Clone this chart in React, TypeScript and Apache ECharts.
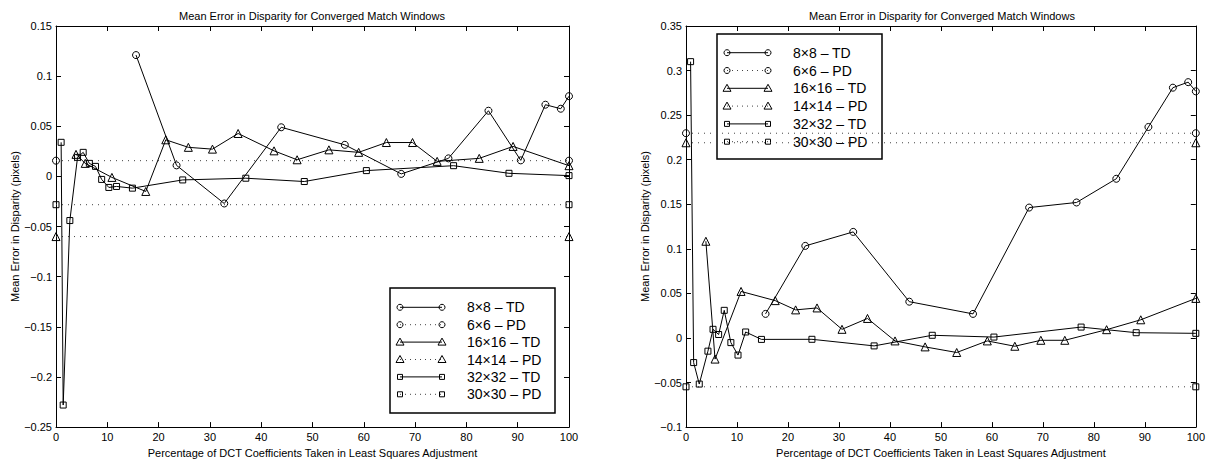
import React, { useEffect, useRef } from "react";
import * as echarts from "echarts";

// ---------- data ----------
const TITLE = "Mean Error in Disparity for Converged Match Windows";
const X_NAME = "Percentage of DCT Coefficients Taken in Least Squares Adjustment";
const Y_NAME = "Mean Error in Disparity (pixels)";
const LEGEND_LABELS = ["8×8 – TD", "6×6 – PD", "16×16 – TD", "14×14 – PD", "32×32 – TD", "30×30 – PD"];

// Left chart
const X8L = [15.6, 23.5, 32.8, 43.9, 56.3, 67.3, 76.5, 84.3, 90.6, 95.4, 98.4, 100];
const Y8L = [0.121, 0.011, -0.027, 0.049, 0.0315, 0.0025, 0.018, 0.0655, 0.016, 0.0715, 0.0675, 0.08];
const X16L = [3.9, 5.7, 10.9, 17.5, 21.4, 25.8, 30.5, 35.5, 42.5, 47.0, 53.2, 59.0, 64.4, 69.5, 74.3, 82.5, 89.1, 100];
const Y16L = [0.022, 0.013, -0.001, -0.015, 0.0365, 0.029, 0.0272, 0.0428, 0.0255, 0.0166, 0.0265, 0.024, 0.0338, 0.0338, 0.015, 0.018, 0.0299, 0.0107];
const X32L = [1.0, 1.4, 2.7, 4.2, 5.3, 6.5, 7.7, 8.9, 10.3, 11.8, 14.9, 24.7, 37.0, 48.4, 60.5, 77.5, 88.3, 100];
const Y32L = [0.034, -0.228, -0.044, 0.019, 0.024, 0.013, 0.01, -0.003, -0.011, -0.01, -0.0117, -0.0035, -0.0018, -0.0051, 0.0058, 0.0107, 0.0031, 0.0008];
const PD_L = [0.0157, -0.06, -0.0282]; // 6x6, 14x14, 30x30

// Right chart
const X8R = [15.6, 23.4, 32.8, 43.8, 56.3, 67.3, 76.6, 84.4, 90.7, 95.5, 98.5, 100];
const Y8R = [0.027, 0.1033, 0.119, 0.0407, 0.027, 0.1463, 0.152, 0.1786, 0.2367, 0.2808, 0.287, 0.2767];
const X16R = [3.9, 5.7, 10.8, 17.5, 21.5, 25.7, 30.6, 35.6, 41.0, 46.9, 53.1, 59.1, 64.5, 69.6, 74.3, 82.5, 89.2, 100];
const Y16R = [0.1085, -0.0237, 0.0522, 0.0419, 0.0315, 0.0337, 0.0097, 0.0219, -0.0033, -0.01, -0.0163, -0.0033, -0.0093, -0.0026, -0.0026, 0.0093, 0.0204, 0.0444];
const X32R = [0.9, 1.5, 2.6, 4.3, 5.3, 6.4, 7.5, 8.8, 10.2, 11.7, 14.8, 24.7, 36.9, 48.3, 60.4, 77.5, 88.3, 100];
const Y32R = [0.31, -0.0276, -0.0517, -0.0148, 0.0097, 0.0039, 0.031, -0.0052, -0.0192, 0.0067, -0.0016, -0.0015, -0.0089, 0.003, 0.001, 0.0122, 0.0059, 0.0052];
const PD_R = [0.2297, 0.219, -0.0548];

const X_RANGE = [0, 100, 10];
const Y_RANGE_L = [-0.25, 0.15, 0.05];
const Y_RANGE_R = [-0.1, 0.35, 0.05];

const FONT = "'Liberation Sans', Arial, Helvetica, sans-serif";

const zip = (xs: number[], ys: number[]) => xs.map((x, i) => [x, ys[i]]);

const fmt = (v: number) => {
  const s = String(parseFloat(v.toFixed(3)));
  return s.replace("-", "\u2212");
};

function axisBase(range: number[], extra: any) {
  return {
    type: "value",
    min: range[0],
    max: range[1],
    interval: range[2],
    splitLine: { show: false },
    axisLine: { show: true, onZero: false, lineStyle: { color: "#000", width: 1 } },
    axisTick: { show: true, inside: true, length: 5, lineStyle: { color: "#000", width: 1 } },
    ...extra,
  };
}

function xAxesFor(grid: number) {
  return [
    axisBase(X_RANGE, {
      gridIndex: grid,
      position: "bottom",
      name: X_NAME,
      nameLocation: "middle",
      nameGap: 18,
      nameTextStyle: { color: "#000", fontSize: 11, fontFamily: FONT },
      axisLabel: { color: "#000", fontSize: 11, margin: 4, fontFamily: FONT, formatter: fmt },
    }),
    axisBase(X_RANGE, { gridIndex: grid, position: "top", axisLabel: { show: false } }),
  ];
}

function yAxesFor(grid: number, range: number[]) {
  return [
    axisBase(range, {
      gridIndex: grid,
      position: "left",
      name: Y_NAME,
      nameLocation: "middle",
      nameRotate: 90,
      nameGap: 36,
      nameTextStyle: { color: "#000", fontSize: 11, fontFamily: FONT },
      axisLabel: { color: "#000", fontSize: 11, margin: 4, fontFamily: FONT, formatter: fmt },
    }),
    axisBase(range, { gridIndex: grid, position: "right", axisLabel: { show: false } }),
  ];
}

const SYMS = ["circle", "triangle", "rect"];
const SIZES = [7, 8, 6];

function seriesFor(axisOffset: number, td: number[][][], pd: number[]) {
  const out: any[] = [];
  for (let k = 0; k < 3; k++) {
    out.push({
      type: "line",
      xAxisIndex: axisOffset,
      yAxisIndex: axisOffset,
      data: td[k],
      symbol: SYMS[k],
      symbolSize: SIZES[k],
      showSymbol: true,
      lineStyle: { color: "#000", width: 1 },
      itemStyle: { color: "rgba(0,0,0,0)", borderColor: "#000", borderWidth: 1 },
      z: 3,
    });
    out.push({
      type: "line",
      xAxisIndex: axisOffset,
      yAxisIndex: axisOffset,
      data: [
        [0, pd[k]],
        [100, pd[k]],
      ],
      symbol: SYMS[k],
      symbolSize: SIZES[k],
      showSymbol: true,
      lineStyle: { color: "#444", width: 1, type: [1, 5] },
      itemStyle: { color: "rgba(0,0,0,0)", borderColor: "#000", borderWidth: 1 },
      z: 2,
    });
  }
  return out;
}

function marker(kind: number, cx: number, cy: number) {
  const style = { fill: "rgba(0,0,0,0)", stroke: "#000", lineWidth: 1 };
  if (kind === 0) return { type: "circle", shape: { cx, cy, r: 3 }, style };
  if (kind === 1)
    return {
      type: "polygon",
      shape: { points: [[cx, cy - 4], [cx - 4, cy + 3], [cx + 4, cy + 3]] },
      style,
    };
  return { type: "rect", shape: { x: cx - 2.5, y: cy - 2.5, width: 5, height: 5 }, style };
}

function legendGraphic(bx: number, by: number, rowY0: number, rowH: number, sx1: number, sx2: number, tx: number) {
  const children: any[] = [
    {
      type: "rect",
      shape: { x: bx, y: by, width: 165, height: 125 },
      style: { fill: "#fff", stroke: "#000", lineWidth: 1.5 },
    },
  ];
  LEGEND_LABELS.forEach((label, i) => {
    const y = rowY0 + i * rowH;
    const kind = Math.floor(i / 2);
    const dotted = i % 2 === 1;
    children.push({
      type: "line",
      shape: { x1: sx1, y1: y, x2: sx2, y2: y },
      style: dotted
        ? { stroke: "#444", lineWidth: 1, lineDash: [1, 4] }
        : { stroke: "#000", lineWidth: 1 },
    });
    children.push(marker(kind, sx1, y));
    children.push(marker(kind, sx2, y));
    children.push({
      type: "text",
      style: {
        text: label,
        x: tx,
        y,
        fill: "#000",
        font: `14px ${FONT}`,
        align: "left",
        verticalAlign: "middle",
        textVerticalAlign: "middle",
      },
    });
  });
  return { type: "group", z: 100, children };
}

export default function App() {
  const ref = useRef<HTMLDivElement>(null);
  useEffect(() => {
    document.body.style.margin = "0";
    const chart = echarts.init(ref.current!, undefined, { renderer: "svg" });
    const option: any = {
      animation: false,
      backgroundColor: "#fff",
      title: [
        { text: TITLE, left: 174, top: 5, textStyle: { fontSize: 11, fontWeight: "normal", color: "#000", fontFamily: FONT } },
        { text: TITLE, left: 804, top: 5, textStyle: { fontSize: 11, fontWeight: "normal", color: "#000", fontFamily: FONT } },
      ],
      grid: [
        { left: 56, top: 26, width: 513, height: 404 },
        { left: 686, top: 26, width: 512, height: 405 },
      ],
      xAxis: [...xAxesFor(0), ...xAxesFor(1)],
      yAxis: [...yAxesFor(0, Y_RANGE_L), ...yAxesFor(1, Y_RANGE_R)],
      series: [
        ...seriesFor(0, [zip(X8L, Y8L), zip(X16L, Y16L), zip(X32L, Y32L)], PD_L),
        ...seriesFor(2, [zip(X8R, Y8R), zip(X16R, Y16R), zip(X32R, Y32R)], PD_R),
      ],
      graphic: [
        legendGraphic(390, 288, 307.3, 17.4, 400, 442, 467),
        legendGraphic(717, 34, 52.7, 17.8, 727, 768, 793),
      ],
    };
    chart.setOption(option);
    return () => chart.dispose();
  }, []);
  return <div ref={ref} style={{ width: 1208, height: 463 }} />;
}
